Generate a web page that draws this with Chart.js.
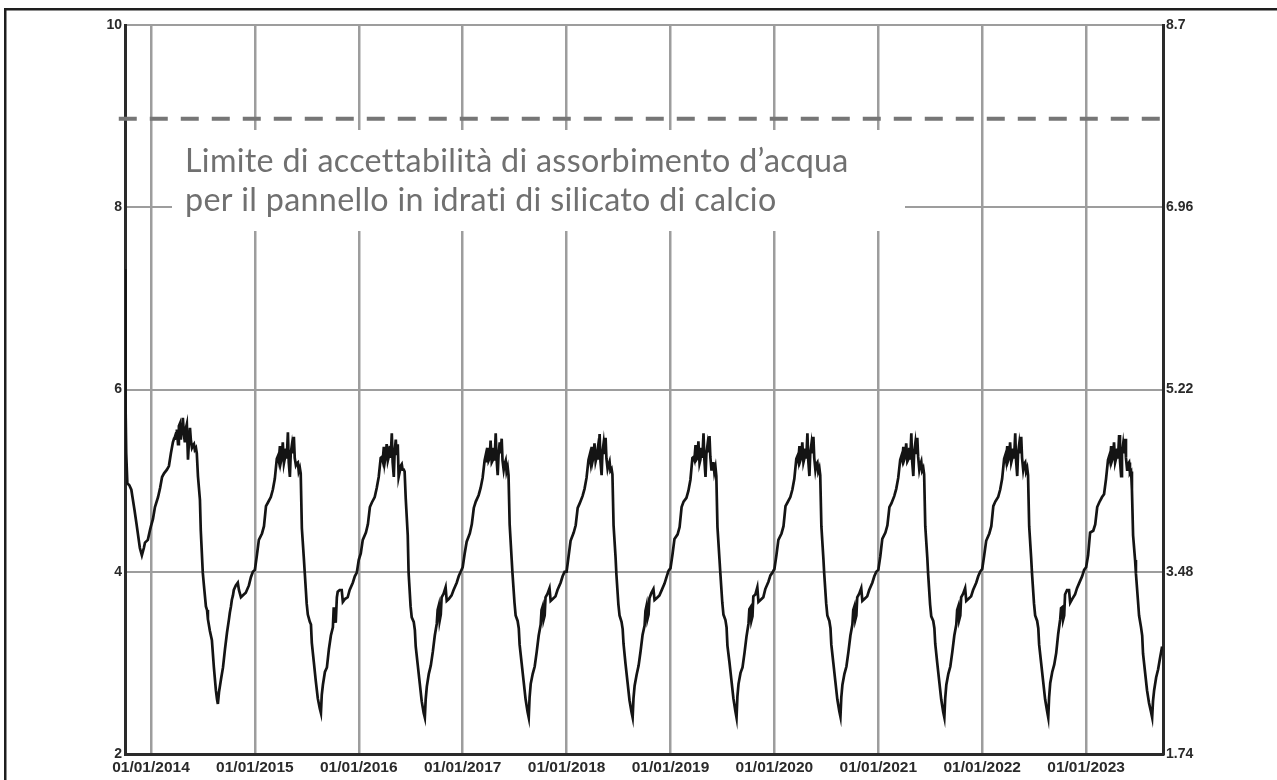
<!DOCTYPE html>
<html><head><meta charset="utf-8">
<script src="https://cdn.jsdelivr.net/npm/chart.js@4"></script>
<style>html,body{margin:0;padding:0;background:#fff;overflow:hidden}canvas{display:block}</style>
</head><body>
<canvas id="c" width="1277" height="780"></canvas>
<script>
// ---- data ----
const yearTicks = [2014, 2015, 2016, 2017, 2018, 2019, 2020, 2021, 2022, 2023];
const leftTicks = [2, 4, 6, 8, 10];
const rightTicks = [1.74, 3.48, 5.22, 6.96, 8.7];
const limitValue = 8.97;
const limitSpan = [2013.69, 2023.80];
const annotationLines = ["Limite di accettabilità di assorbimento d’acqua", "per il pannello in idrati di silicato di calcio"];

// first partial season (days relative to 01/01/2014)
const days2013 = [-91, -90, -89, -87, -83, -76, -69, -65, -58, -51, -39, -32, -25, -21, -11, -4];
const wc2013   = [7.32, 6.45, 5.87, 5.30, 4.97, 4.95, 4.90, 4.82, 4.68, 4.53, 4.26, 4.18, 4.26, 4.32, 4.35, 4.45];

// sampling days within each year (day of year)
const sampleDays = [0,7,14,25,32,39,46,56,63,70,
  77,81,84,88,91,95,98,102,105,109,
  112,116,119,123,126,130,133,137,140,144,
  147,151,154,158,161,165,172,175,182,186,
  193,197,200,207,214,221,228,232,235,239,
  246,253,260,267,274,277,281,284,288,291,
  298,305,309,316,326,333,344,351,358];

const wc2014 = [4.50,4.58,4.71,4.82,4.92,5.04,5.08,5.12,5.16,5.30,
  5.42,5.46,5.48,5.52,5.56,5.40,5.60,5.63,5.45,5.62,
  5.69,5.50,5.42,5.58,5.62,5.23,5.40,5.58,5.45,5.36,
  5.38,5.40,5.34,5.36,5.30,5.05,4.79,4.45,3.99,3.85,
  3.62,3.58,3.48,3.35,3.25,2.95,2.70,2.60,2.55,2.68,
  2.82,2.95,3.15,3.33,3.48,3.55,3.62,3.69,3.74,3.80,
  3.85,3.88,3.80,3.72,3.75,3.77,3.85,3.94,4.00];
const wc2015 = [4.02,4.18,4.35,4.42,4.50,4.72,4.76,4.82,4.90,5.02,
  5.24,5.27,5.22,5.38,5.20,5.26,5.42,5.19,5.24,5.35,
  5.24,5.53,5.20,5.04,5.30,5.39,5.30,5.48,5.25,5.17,
  5.19,5.20,5.10,5.14,5.08,4.48,4.15,4.00,3.65,3.53,
  3.45,3.42,3.22,3.01,2.80,2.61,2.50,2.45,2.65,2.76,
  2.90,2.95,3.15,3.30,3.39,3.61,3.50,3.44,3.72,3.78,
  3.80,3.80,3.67,3.70,3.72,3.80,3.88,3.95,3.99];
const wc2016 = [4.13,4.20,4.35,4.43,4.52,4.71,4.76,4.82,4.92,5.04,
  5.25,5.26,5.22,5.37,5.20,5.28,5.40,5.22,5.26,5.38,
  5.25,5.52,5.20,5.04,5.32,5.45,5.28,5.40,5.04,5.10,
  5.16,5.18,5.12,5.12,5.10,4.80,4.40,3.99,3.62,3.50,
  3.45,3.36,3.18,2.98,2.78,2.58,2.45,2.40,2.60,2.74,
  2.88,2.97,3.12,3.30,3.43,3.58,3.63,3.46,3.53,3.72,
  3.76,3.83,3.68,3.70,3.74,3.80,3.88,3.95,4.00];
const wc2017 = [4.05,4.20,4.33,4.42,4.52,4.70,4.77,4.84,4.92,5.03,
  5.22,5.28,5.20,5.36,5.22,5.25,5.44,5.20,5.22,5.36,
  5.22,5.52,5.24,5.06,5.28,5.42,5.30,5.46,5.22,5.12,
  5.18,5.22,5.10,5.15,5.06,4.52,4.14,3.98,3.66,3.52,
  3.46,3.38,3.20,3.00,2.80,2.60,2.46,2.40,2.62,2.77,
  2.88,2.96,3.12,3.30,3.42,3.58,3.62,3.47,3.52,3.72,
  3.76,3.82,3.68,3.70,3.73,3.80,3.88,3.95,4.00];
const wc2018 = [4.00,4.17,4.34,4.43,4.51,4.70,4.75,4.83,4.91,5.03,
  5.23,5.28,5.21,5.37,5.21,5.27,5.41,5.21,5.25,5.34,
  5.23,5.51,5.21,5.06,5.31,5.41,5.29,5.47,5.24,5.13,
  5.17,5.21,5.11,5.13,5.07,4.51,4.16,3.97,3.64,3.52,
  3.45,3.37,3.21,2.99,2.79,2.59,2.46,2.40,2.61,2.75,
  2.87,2.97,3.13,3.31,3.41,3.57,3.63,3.48,3.53,3.71,
  3.77,3.81,3.69,3.71,3.74,3.79,3.87,3.94,4.01];
const wc2019 = [4.04,4.19,4.36,4.41,4.49,4.71,4.77,4.81,4.89,5.01,
  5.25,5.26,5.23,5.39,5.23,5.25,5.43,5.19,5.23,5.36,
  5.25,5.52,5.23,5.04,5.29,5.39,5.31,5.49,5.26,5.11,
  5.19,5.19,5.09,5.15,5.05,4.49,4.14,3.99,3.66,3.53,
  3.47,3.39,3.19,3.01,2.81,2.61,2.47,2.40,2.63,2.77,
  2.89,2.95,3.11,3.29,3.43,3.59,3.61,3.46,3.51,3.73,
  3.75,3.83,3.67,3.69,3.72,3.81,3.89,3.96,3.99];
const wc2020 = [4.03,4.18,4.35,4.42,4.50,4.72,4.76,4.82,4.90,5.02,
  5.24,5.27,5.22,5.38,5.22,5.26,5.42,5.20,5.24,5.35,
  5.24,5.52,5.22,5.05,5.30,5.40,5.30,5.48,5.25,5.12,
  5.18,5.20,5.10,5.14,5.06,4.50,4.15,3.98,3.65,3.52,
  3.46,3.38,3.20,3.00,2.80,2.60,2.47,2.41,2.62,2.76,
  2.88,2.96,3.12,3.30,3.42,3.58,3.62,3.47,3.52,3.72,
  3.76,3.82,3.68,3.70,3.73,3.80,3.88,3.95,4.00];
const wc2021 = [4.02,4.17,4.36,4.43,4.51,4.71,4.75,4.83,4.91,5.03,
  5.23,5.27,5.23,5.37,5.23,5.27,5.41,5.21,5.23,5.36,
  5.23,5.52,5.21,5.05,5.31,5.41,5.29,5.47,5.26,5.12,
  5.17,5.21,5.11,5.14,5.07,4.50,4.16,3.98,3.64,3.51,
  3.46,3.38,3.21,3.00,2.80,2.60,2.46,2.40,2.61,2.76,
  2.88,2.96,3.12,3.30,3.42,3.58,3.62,3.47,3.52,3.72,
  3.76,3.82,3.68,3.70,3.73,3.80,3.88,3.95,4.00];
const wc2022 = [4.03,4.18,4.34,4.42,4.50,4.72,4.77,4.82,4.90,5.02,
  5.24,5.28,5.22,5.38,5.22,5.26,5.42,5.20,5.24,5.35,
  5.24,5.52,5.22,5.05,5.30,5.40,5.30,5.48,5.25,5.12,
  5.18,5.20,5.10,5.14,5.06,4.50,4.15,3.98,3.65,3.52,
  3.46,3.38,3.20,3.00,2.80,2.60,2.47,2.40,2.62,2.78,
  2.90,2.98,3.11,3.32,3.48,3.60,3.61,3.47,3.52,3.75,
  3.80,3.80,3.66,3.70,3.75,3.82,3.90,3.95,4.02];
const wc2023 = [4.05,4.18,4.43,4.45,4.52,4.71,4.76,4.82,4.85,5.02,
  5.23,5.27,5.22,5.38,5.22,5.26,5.42,5.20,5.24,5.35,
  5.24,5.50,5.22,5.05,5.30,5.40,5.30,5.46,5.25,5.12,
  5.18,5.20,5.08,5.10,4.90,4.40,4.13,3.98,3.69,3.52,
  3.39,3.30,3.10,2.90,2.70,2.56,2.46,2.40,2.58,2.70,
  2.84,2.93,3.06,3.18];

// ---- build series ----
const seasons = [
  [2014, wc2014], [2015, wc2015], [2016, wc2016], [2017, wc2017], [2018, wc2018],
  [2019, wc2019], [2020, wc2020], [2021, wc2021], [2022, wc2022], [2023, wc2023]
];
const series = days2013.map((d, i) => ({x: 2014 + d / 365, y: wc2013[i]}));
seasons.forEach(([yr, vals]) => vals.forEach((v, i) => series.push({x: yr + sampleDays[i] / 365, y: v})));

const TICK_COLOR = '#2a2a2a';
const GRID_COLOR = '#9d9d9d';
const AXIS_COLOR = '#2a2a2a';

const overlay = {
  id: 'overlay',
  beforeDatasetsDraw(chart) {
    const ctx = chart.ctx;
    ctx.save();
    ctx.fillStyle = '#ffffff';
    ctx.fillRect(172, 130, 733, 101);
    try { ctx.letterSpacing = '0.3px'; } catch (e) {}
    let size = 30;
    ctx.font = size + 'px Lato';
    const w = ctx.measureText(annotationLines[0]).width;
    size = size * 665 / w;
    ctx.font = size.toFixed(2) + 'px Lato';
    ctx.fillStyle = '#707070';
    ctx.textBaseline = 'alphabetic';
    ctx.textAlign = 'left';
    ctx.fillText(annotationLines[0], 185, 172);
    ctx.fillText(annotationLines[1], 185, 211);
    ctx.restore();
  },
  afterDraw(chart) {
    const ctx = chart.ctx;
    ctx.save();
    ctx.fillStyle = '#1e1e1e';
    ctx.fillRect(4, 8, 1273, 2.5);
    ctx.fillRect(4, 8, 2.5, 772);
    ctx.restore();
  }
};

new Chart(document.getElementById('c'), {
  type: 'line',
  data: {
    datasets: [
      {
        data: series,
        borderColor: '#141414',
        borderWidth: 2.7,
        pointRadius: 0,
        tension: 0,
        yAxisID: 'y'
      },
      {
        data: limitSpan.map(x => ({x: x, y: limitValue})),
        borderColor: '#767676',
        borderWidth: 4,
        borderDash: [18, 13],
        pointRadius: 0,
        clip: false,
        yAxisID: 'y'
      }
    ]
  },
  options: {
    responsive: false,
    animation: false,
    devicePixelRatio: 1,
    parsing: false,
    layout: {padding: {top: 25, left: 0, right: 0, bottom: 0}},
    plugins: {legend: {display: false}, tooltip: {enabled: false}},
    scales: {
      x: {
        type: 'linear',
        min: 2013.75,
        max: 2023.74,
        afterBuildTicks: s => { s.ticks = yearTicks.map(v => ({value: v})); },
        afterFit: s => { s.height = 26; },
        ticks: {
          callback: v => '01/01/' + v,
          autoSkip: false,
          maxRotation: 0,
          padding: 4,
          color: TICK_COLOR,
          font: {family: 'Liberation Sans', weight: 'bold', size: 15.5}
        },
        grid: {color: GRID_COLOR, lineWidth: 2.5, drawTicks: false},
        border: {color: AXIS_COLOR, width: 3}
      },
      y: {
        position: 'left',
        min: 2,
        max: 10,
        afterBuildTicks: s => { s.ticks = leftTicks.map(v => ({value: v})); },
        afterFit: s => { s.width = 125; },
        ticks: {
          padding: 3,
          color: TICK_COLOR,
          font: {family: 'Liberation Sans', weight: 'bold', size: 14}
        },
        grid: {
          color: c => (c.tick && c.tick.value === 2) ? 'rgba(0,0,0,0)' : GRID_COLOR,
          lineWidth: 2,
          drawTicks: false
        },
        border: {color: AXIS_COLOR, width: 3}
      },
      y2: {
        position: 'right',
        min: 1.74,
        max: 8.7,
        afterBuildTicks: s => { s.ticks = rightTicks.map(v => ({value: v})); },
        afterFit: s => { s.width = 114; },
        ticks: {
          callback: v => String(v),
          padding: 3,
          color: TICK_COLOR,
          font: {family: 'Liberation Sans', weight: 'bold', size: 14}
        },
        grid: {drawOnChartArea: false, drawTicks: false},
        border: {color: AXIS_COLOR, width: 3}
      }
    }
  },
  plugins: [overlay]
});
</script>
</body></html>
